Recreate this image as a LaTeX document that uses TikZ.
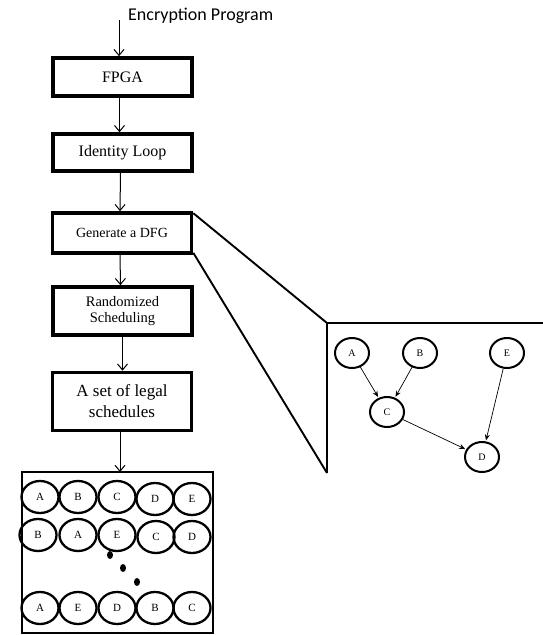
\documentclass[tikz,border=0pt]{standalone}
\usepackage{fontspec}
\setmainfont{Liberation Serif}
\newfontfamily\calib{Carlito}
\usetikzlibrary{arrows.meta,shapes.geometric,calc}
\tikzset{
  flowbox/.style={draw, line width=3.6pt, minimum width=139pt, inner sep=0pt, align=center, font=\fontsize{16}{18}\selectfont},
  flowarrow/.style={line width=1pt, -{Straight Barb[length=6pt,width=10pt,line width=1pt]}},
  dfgnode/.style={draw, ellipse, line width=2pt, minimum width=34pt, minimum height=30pt, inner sep=0pt, font=\fontsize{10}{12}\selectfont},
  dfgarrow/.style={line width=0.7pt, -{Stealth[length=6pt,width=5pt]}, shorten >=1pt},
  schednode/.style={draw, ellipse, line width=2.3pt, minimum width=37pt, minimum height=32pt, inner sep=0pt, font=\fontsize{11}{12}\selectfont},
  panelline/.style={line width=1.9pt},
  dotmark/.style={fill=black, ellipse, minimum width=6pt, minimum height=8pt, inner sep=0pt}
}
\begin{document}
\begin{tikzpicture}[x=1pt,y=-1pt]
\useasboundingbox (0,0) rectangle (542,635);
% title
\node[anchor=west, font=\calib\fontsize{18}{20}\selectfont, inner sep=0pt] (title) at (128,16) {Encryption Program};
\coordinate (start) at (119,20);
% flow boxes
\node[flowbox, minimum height=38pt] (fpga) at (122.5,77) {FPGA};
\node[flowbox, minimum height=37pt] (idl) at (122.5,152.5) {Identity Loop};
\node[flowbox, minimum height=40pt, font=\fontsize{14}{16}\selectfont] (gen) at (122,233) {Generate a DFG};
\node[flowbox, minimum height=48pt, font=\fontsize{14.5}{17}\selectfont] (rand) at (122.5,311) {Randomized\\[-1pt]Scheduling};
\node[flowbox, minimum height=58pt, font=\fontsize{17}{21}\selectfont] (legal) at (122,401.5) {A set of legal\\schedules};
% flow arrows
\draw[flowarrow] (start) -- (start |- fpga.north);
\draw[flowarrow] ([xshift=-3pt]fpga.south) -- ([xshift=-3pt]idl.north);
\draw[flowarrow] ([xshift=-2pt]idl.south) -- ([xshift=-2pt]gen.north);
\draw[flowarrow] ([xshift=-2pt]gen.south) -- ([xshift=-2pt]rand.north);
\draw[flowarrow] (rand.south) -- (rand.south |- legal.north);
% schedules panel
\coordinate (schtl) at (22,472);
\coordinate (schbr) at (213,633);
\draw[panelline] (schtl) rectangle (schbr);
\draw[flowarrow] ([xshift=-2pt]legal.south) -- ([xshift=-2pt]legal.south |- schtl);
% DFG panel
\coordinate (pnr) at (545,323);
\coordinate (ptl) at (327,323);
\coordinate (pbl) at (327,473);
\draw[panelline] (pnr) -- (ptl) -- (pbl);
\draw[panelline] ([yshift=-2pt]gen.north east) -- (ptl);
\draw[panelline] ([yshift=2pt]gen.south east) -- (pbl);
% DFG nodes
\node[dfgnode] (dA) at (352,353) {A};
\node[dfgnode] (dB) at (420,353) {B};
\node[dfgnode] (dE) at (507,353) {E};
\node[dfgnode] (dC) at (387,412) {C};
\node[dfgnode] (dD) at (482,457) {D};
\draw[dfgarrow] (dA) -- (dC);
\draw[dfgarrow] (dB) -- (dC);
\draw[dfgarrow] (dE) -- (dD);
\draw[dfgarrow] (dC) -- (dD);
% schedules
\node[schednode] (r1a) at (40,497) {A};
\node[schednode] (r1b) at (78,497) {B};
\node[schednode] (r1c) at (117,497) {C};
\node[schednode] (r1d) at (155,499) {D};
\node[schednode] (r1e) at (192,499) {E};
\node[schednode] (r2b) at (38,535) {B};
\node[schednode] (r2a) at (78,535) {A};
\node[schednode] (r2e) at (117,535) {E};
\node[schednode] (r2c) at (156,537) {C};
\node[schednode] (r2d) at (192,537) {D};
\node[dotmark] (dot1) at (110,555) {};
\node[dotmark] (dot2) at (123,568) {};
\node[dotmark] (dot3) at (137,582) {};
\node[schednode] (r3a) at (40,608) {A};
\node[schednode] (r3e) at (78,608) {E};
\node[schednode] (r3d) at (117,608) {D};
\node[schednode] (r3b) at (155,608) {B};
\node[schednode] (r3c) at (192,608) {C};
\end{tikzpicture}
\end{document}
